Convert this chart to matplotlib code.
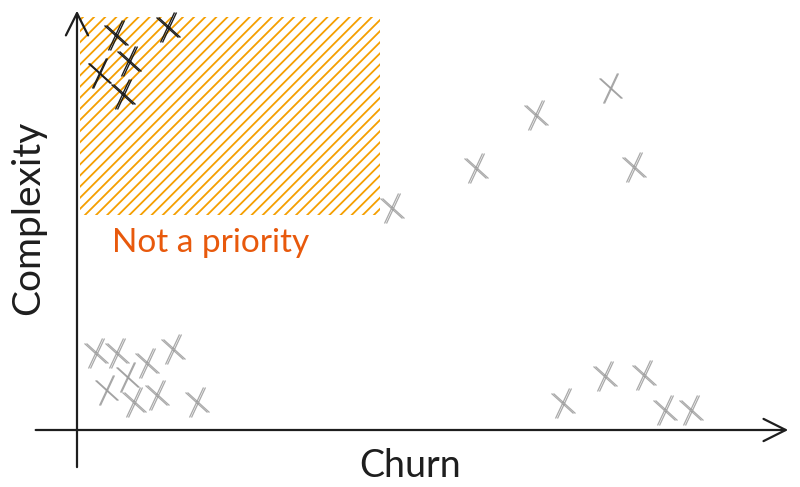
import matplotlib.pyplot as plt
from matplotlib.markers import MarkerStyle
from matplotlib.patches import Rectangle
from matplotlib.transforms import Affine2D

# files inside the "not a priority" zone (high complexity, low churn)
low_churn_x = [5.4, 12.9, 7.3, 3.1, 6.4]
low_churn_y = [94.0, 96.0, 87.9, 85.0, 80.0]

# everything else
other_x = [44.9, 56.9, 65.4, 76.1, 79.4,
           69.3, 75.3, 80.9, 83.9, 87.6,
           2.6, 5.6, 9.9, 13.6, 7.1, 4.1, 8.0, 11.3, 17.0]
other_y = [52.9, 62.4, 75.0, 81.4, 62.6,
           6.4, 12.9, 13.1, 4.8, 4.8,
           18.3, 18.3, 16.0, 19.3, 12.6, 9.5, 6.7, 8.3, 6.7]

zone_x = (0.4, 43.3)
zone_y = (51.2, 98.3)

plt.rcParams['font.family'] = ['Lato', 'DejaVu Sans']
plt.rcParams['hatch.linewidth'] = 1.3

fig = plt.figure(figsize=(8, 4.87), dpi=100)
# origin sits at pixel (77, 430), axes 700 x 420 px
ax = fig.add_axes([77 / 800, 57 / 487, 700 / 800, 420 / 487])
ax.set_xlim(0, 100)
ax.set_ylim(0, 100)
ax.axis('off')

# hatched zone
zone = Rectangle((zone_x[0], zone_y[0]), zone_x[1] - zone_x[0], zone_y[1] - zone_y[0],
                 fill=False, hatch='///', edgecolor='#f59f00', linewidth=0)
ax.add_patch(zone)
ax.text(5, 44.5, 'Not a priority', color='#e8590c', fontsize=24, va='center')

# tilted hand-drawn crosses
mk = MarkerStyle('x', transform=Affine2D().rotate_deg(12).scale(0.8, 1.15))
for dx in (0, 0.25):
    ax.plot([x + dx for x in other_x], other_y, ls='none', marker=mk, ms=16,
            mew=0.9, mec='#9a9a9a', alpha=0.85, clip_on=False)
    ax.plot([x + dx for x in low_churn_x], low_churn_y, ls='none', marker=mk, ms=16,
            mew=1.0, mec='#1e1e1e', clip_on=False)

# axes arrows
arrow = dict(arrowstyle='->', lw=1.6, color='#1e1e1e', mutation_scale=40)
ax.annotate('', xy=(102, 0), xytext=(-6.3, 0), arrowprops=arrow, annotation_clip=False)
ax.annotate('', xy=(0, 100.5), xytext=(0, -9.5), arrowprops=arrow, annotation_clip=False)

ax.text(47.6, -8.5, 'Churn', fontsize=27, ha='center', va='center', color='#1e1e1e')
ax.text(-7, 50.5, 'Complexity', fontsize=28, rotation=90, ha='center', va='center',
        color='#1e1e1e')

fig.savefig('out.png', dpi=100)
